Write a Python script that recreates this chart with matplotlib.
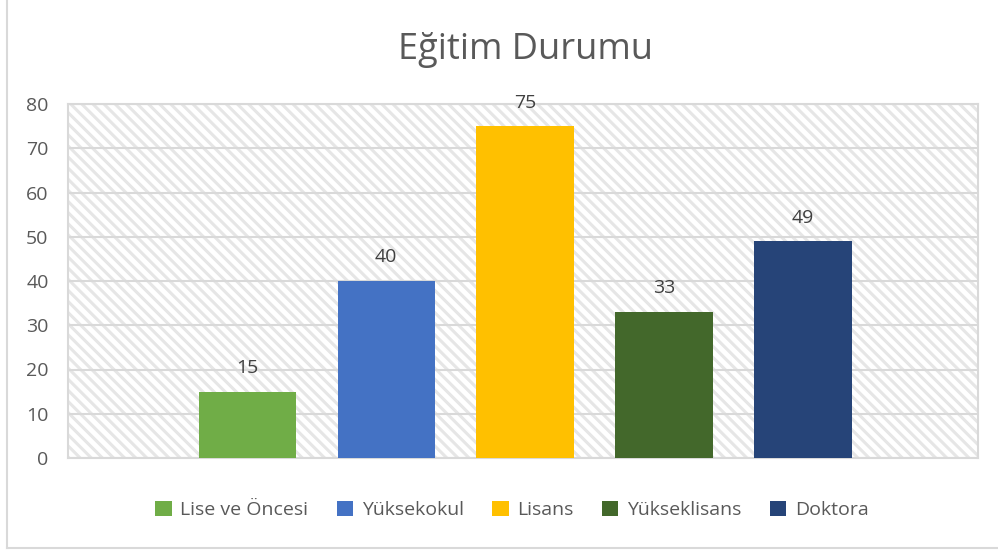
import matplotlib
matplotlib.use('Agg')
import matplotlib.pyplot as plt
from matplotlib.patches import Rectangle, Patch
from matplotlib.lines import Line2D

plt.rcParams['font.family'] = ['Open Sans', 'DejaVu Sans']

# data
categories = ['Lise ve Öncesi', 'Yüksekokul', 'Lisans', 'Yükseklisans', 'Doktora']
values = [15, 40, 75, 33, 49]
colors = ['#70AD47', '#4472C4', '#FFC000', '#43682B', '#264478']
yticks = [0, 10, 20, 30, 40, 50, 60, 70, 80]

fig = plt.figure(figsize=(9.98, 5.52), dpi=100)
ax = fig.add_axes([68 / 998, 94 / 552, 910 / 998, 354 / 552])

# hatched plot area
plt.rcParams['hatch.linewidth'] = 2.2
bg = Rectangle((0, 0), 1, 1, transform=ax.transAxes, facecolor='white',
               edgecolor='#e6e6e6', hatch='\\\\\\', lw=0, zorder=0)
ax.add_patch(bg)

x = range(len(values))
bars = ax.bar(x, values, width=0.70, color=colors, zorder=3)

for xi, v in zip(x, values):
    ax.annotate(str(v), xy=(xi, v), xytext=(0, 17), textcoords='offset points',
                ha='center', va='center', fontsize=14, color='#404040', zorder=4)

ax.set_xlim(-1.29, 5.26)
ax.set_ylim(0, 80)
ax.set_yticks(yticks)
ax.set_xticks([])
ax.tick_params(axis='y', length=0, pad=14, labelsize=14, labelcolor='#595959')
ax.grid(True, axis='y', color='#d9d9d9', lw=1.5, zorder=1)
ax.set_axisbelow(True)
for s in ax.spines.values():
    s.set_color('#d9d9d9')
    s.set_linewidth(1.5)
    s.set_zorder(2)

fig.text(526 / 998, 1 - 50 / 552, 'Eğitim Durumu', ha='center', va='center',
         fontsize=26, color='#595959')

handles = [Patch(facecolor=c, edgecolor='none') for c in colors]
fig.legend(handles, categories, loc='center', bbox_to_anchor=(512 / 998, 1 - 510 / 552),
           ncol=5, frameon=False, fontsize=14, labelcolor='#595959',
           handlelength=0.85, handleheight=0.85, handletextpad=0.45, columnspacing=1.45)

# chart frame
fig.add_artist(Line2D([6.5 / 998, 6.5 / 998], [4 / 552, 1], color='#d9d9d9', lw=1.5,
                      transform=fig.transFigure))
fig.add_artist(Line2D([6.5 / 998, 1], [4 / 552, 4 / 552], color='#d9d9d9', lw=1.5,
                      transform=fig.transFigure))

fig.savefig('out.png', dpi=100, facecolor='white')
